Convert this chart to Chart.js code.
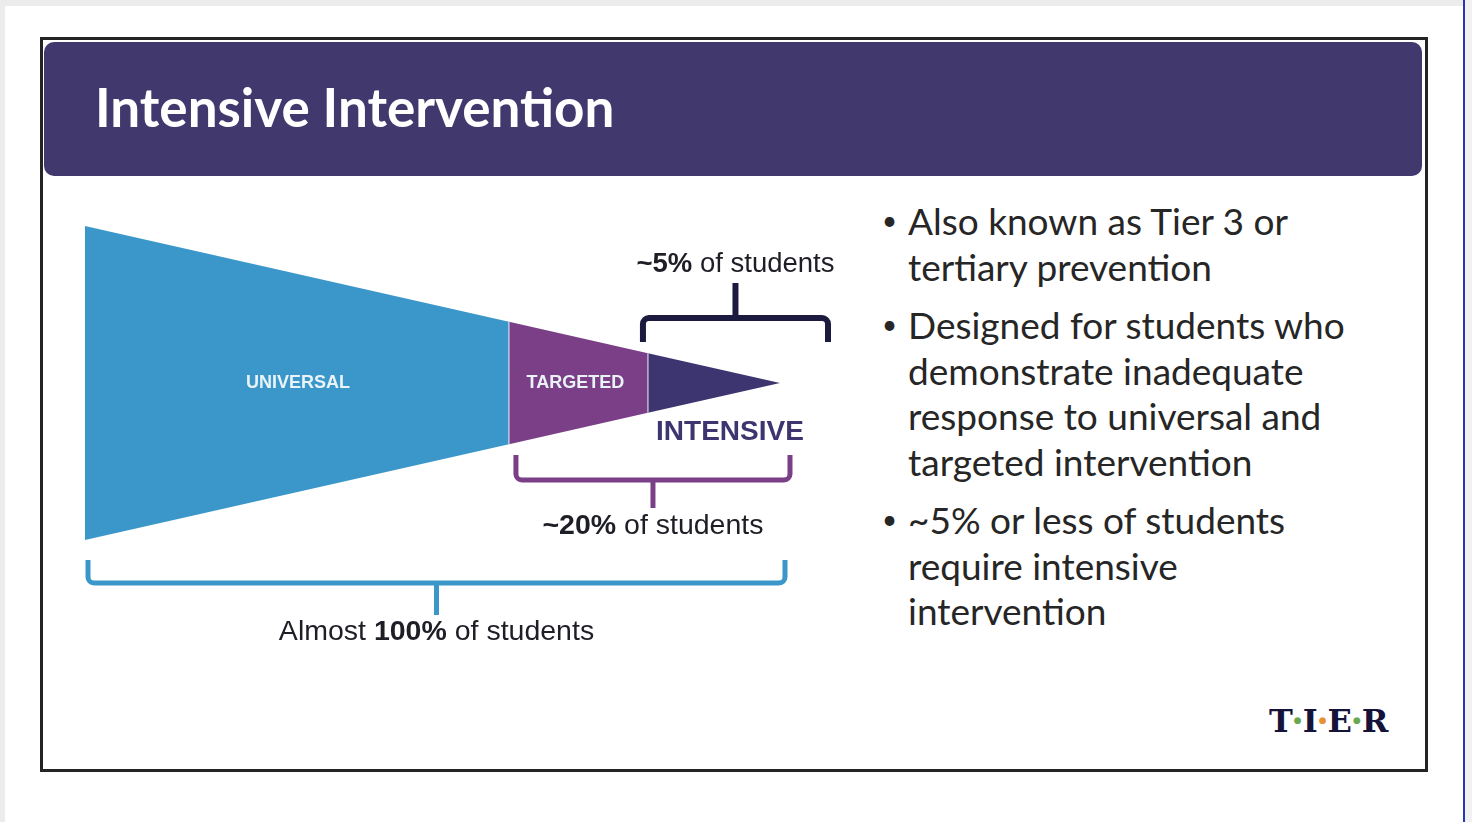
<!DOCTYPE html>
<html lang="en">
<head>
  <meta charset="UTF-8" />
  <title>Intensive Intervention</title>
  <style>
    * { box-sizing: border-box; margin: 0; padding: 0; }

    body {
      width: 1472px;
      height: 822px;
      position: relative;
      overflow: hidden;
      background: #fff;
      font-family: Lato, 'Open Sans', sans-serif;
    }

    .edge { position: absolute; background: #ececec; }
    .edge.top { left: 0; top: 0; width: 1464px; height: 6px; }
    .edge.left { left: 0; top: 0; width: 5px; height: 822px; }
    .edge.rline { left: 1463px; top: 0; width: 2px; height: 822px; background: #2638b4; }
    .edge.right { left: 1465px; top: 0; width: 7px; height: 822px; background: #f1f1f1; }

    .slide {
      position: absolute;
      left: 40px; top: 37px;
      width: 1388px; height: 735px;
      border: 3px solid #242424;
    }

    .header {
      position: absolute;
      left: 44px; top: 42px;
      width: 1378px; height: 134px;
      background: #41386d;
      border-radius: 10px;
    }

    .header h1 {
      position: absolute;
      left: 51px; top: 34px;
      color: #fff;
      font: bold 53px Lato, sans-serif;
      line-height: 62px;
      white-space: nowrap;
    }

    #funnel {
      position: absolute;
      left: 60px; top: 190px;
    }

    ul.points {
      position: absolute;
      left: 880px; top: 198px;
      list-style: none;
      color: #262626;
      font-size: 37px;
      line-height: 45.5px;
      white-space: nowrap;
    }

    ul.points li { position: relative; padding-left: 28px; }
    ul.points li + li { margin-top: 13px; }
    ul.points li::before {
      content: '\2022';
      position: absolute;
      left: 2px; top: 0;
      font-size: 26px;
    }

    .logo {
      position: absolute;
      left: 1269px; top: 702px;
      font: bold 32px 'DejaVu Serif', serif;
      color: #15133a;
      white-space: nowrap;
    }
    .logo span { font-size: 9px; vertical-align: 9px; margin: 0 1px; }
    .logo .g { color: #6aa84f; }
    .logo .o { color: #e69138; }
  </style>

  <script src="https://cdn.jsdelivr.net/npm/chart.js"></script>
</head>
<body>
  <div class="edge top"></div>
  <div class="edge left"></div>
  <div class="edge rline"></div>
  <div class="edge right"></div>

  <div class="slide"></div>
  <div class="header"><h1>Intensive Intervention</h1></div>

  <canvas id="funnel" width="800" height="480"></canvas>

  <ul class="points">
    <li>Also known as Tier 3 or<br>tertiary prevention</li>
    <li>Designed for students who<br>demonstrate inadequate<br>response to universal and<br>targeted intervention</li>
    <li>~5% or less of students<br>require intensive<br>intervention</li>
  </ul>

  <div class="logo">T<span class="g">&#9679;</span>I<span class="o">&#9679;</span>E<span class="g">&#9679;</span>R</div>

  <script>
    // tiers along the funnel (% of its length) and the funnel half width at each boundary
    const tiers = ['UNIVERSAL', 'TARGETED', 'INTENSIVE'];
    const tierStart = [0, 61, 81];
    const tierEnd = [61, 81, 100];
    const boundaryPos = [0, 61, 81, 100];
    const halfWidth = [1, 0.39, 0.19, 0];

    // brackets: each one covers the tier it starts at and everything after it
    const braceFromTier = [0, 1, 2];
    const braceLabels = ['Almost 100% of students', '~20% of students', '~5% of students'];
    const braceBold = ['100%', '~20%', '~5%'];

    const tierColors = ['#3b97c9', '#7b3f87', '#3c356f'];
    const braceStyle = [
      { color: '#3b97c9', level: -1.274, dir: 1, padL: 3, padR: 5, tick: 23, stem: 32, text: 17, lw: 5, size: 28.5 },
      { color: '#7b3f87', level: -0.618, dir: 1, padL: 7, padR: 10, tick: 25, stem: 28, text: 18, lw: 5, size: 28.5 },
      { color: '#1c1a3e', level: 0.414, dir: -1, padL: -5, padR: 48, tick: 24, stem: 35, text: 19, lw: 6, size: 27.5 }
    ];

    function widthAt(pos) {
      return halfWidth[boundaryPos.indexOf(pos)];
    }

    const datasets = [];
    tiers.forEach((t, i) => {
      const a = tierStart[i], b = tierEnd[i];
      datasets.push({
        label: t,
        data: [{ x: a, y: widthAt(a) }, { x: b, y: widthAt(b) }],
        backgroundColor: tierColors[i],
        borderWidth: 0,
        pointRadius: 0,
        fill: '+1'
      });
      datasets.push({
        label: t + ' lower',
        data: [{ x: a, y: -widthAt(a) }, { x: b, y: -widthAt(b) }],
        borderWidth: 0,
        pointRadius: 0,
        fill: false
      });
    });

    function mixedText(ctx, text, bold, cx, cy, size, color) {
      const i = text.indexOf(bold);
      const parts = [
        [text.slice(0, i), 'normal'],
        [bold, 'bold'],
        [text.slice(i + bold.length), 'normal']
      ];
      let total = 0;
      parts.forEach(p => {
        ctx.font = p[1] + ' ' + size + 'px "Liberation Sans", Arial, sans-serif';
        p.push(ctx.measureText(p[0]).width);
        total += p[2];
      });
      let x = cx - total / 2;
      ctx.fillStyle = color;
      ctx.textAlign = 'left';
      ctx.textBaseline = 'middle';
      parts.forEach(p => {
        ctx.font = p[1] + ' ' + size + 'px "Liberation Sans", Arial, sans-serif';
        ctx.fillText(p[0], x, cy);
        x += p[2];
      });
    }

    const decorations = {
      id: 'decorations',
      afterDatasetsDraw(chart) {
        const ctx = chart.ctx;
        const xs = chart.scales.x, ys = chart.scales.y;
        ctx.save();

        // faint seams between tiers
        ctx.strokeStyle = 'rgba(235,230,245,0.7)';
        ctx.lineWidth = 1.5;
        [1, 2].forEach(k => {
          const px = xs.getPixelForValue(boundaryPos[k]);
          ctx.beginPath();
          ctx.moveTo(px, ys.getPixelForValue(halfWidth[k]));
          ctx.lineTo(px, ys.getPixelForValue(-halfWidth[k]));
          ctx.stroke();
        });

        // tier names
        ctx.textAlign = 'center';
        ctx.textBaseline = 'middle';
        ctx.fillStyle = '#e9f3f8';
        ctx.font = 'bold 18px "Liberation Sans", Arial, sans-serif';
        ctx.fillText(tiers[0], xs.getPixelForValue((tierStart[0] + tierEnd[0]) / 2) + 1, ys.getPixelForValue(0));
        ctx.fillText(tiers[1], xs.getPixelForValue((tierStart[1] + tierEnd[1]) / 2) - 3, ys.getPixelForValue(0));
        ctx.fillStyle = tierColors[2];
        ctx.font = 'bold 28px "Liberation Sans", Arial, sans-serif';
        ctx.fillText(tiers[2], xs.getPixelForValue((tierStart[2] + tierEnd[2]) / 2) + 16, ys.getPixelForValue(0) + 49);

        // brackets
        braceFromTier.forEach((t, i) => {
          const s = braceStyle[i];
          const x0 = xs.getPixelForValue(tierStart[t]) + s.padL;
          const x1 = xs.getPixelForValue(100) + s.padR;
          const y = ys.getPixelForValue(s.level);
          const mid = (x0 + x1) / 2;
          const r = 6;
          ctx.strokeStyle = s.color;
          ctx.lineWidth = s.lw;
          ctx.lineJoin = 'round';
          ctx.lineCap = 'butt';
          ctx.beginPath();
          ctx.moveTo(x0, y - s.dir * s.tick);
          ctx.arcTo(x0, y, x0 + r, y, r);
          ctx.arcTo(x1, y, x1, y - s.dir * s.tick, r);
          ctx.lineTo(x1, y - s.dir * s.tick);
          ctx.stroke();
          ctx.beginPath();
          ctx.moveTo(mid, y);
          ctx.lineTo(mid, y + s.dir * s.stem);
          ctx.stroke();
          mixedText(ctx, braceLabels[i], braceBold[i], mid, y + s.dir * (s.stem + s.text), s.size, '#1e1e26');
        });

        ctx.restore();
      }
    };

    new Chart(document.getElementById('funnel').getContext('2d'), {
      type: 'line',
      data: { datasets },
      options: {
        responsive: false,
        animation: false,
        devicePixelRatio: 1,
        layout: { padding: 0 },
        elements: { line: { tension: 0 } },
        scales: {
          x: { type: 'linear', min: -3.597, max: 111.511, display: false },
          y: { type: 'linear', min: -1.828, max: 1.2293, display: false }
        },
        plugins: {
          legend: { display: false },
          tooltip: { enabled: false }
        }
      },
      plugins: [decorations]
    });
  </script>
</body>
</html>
